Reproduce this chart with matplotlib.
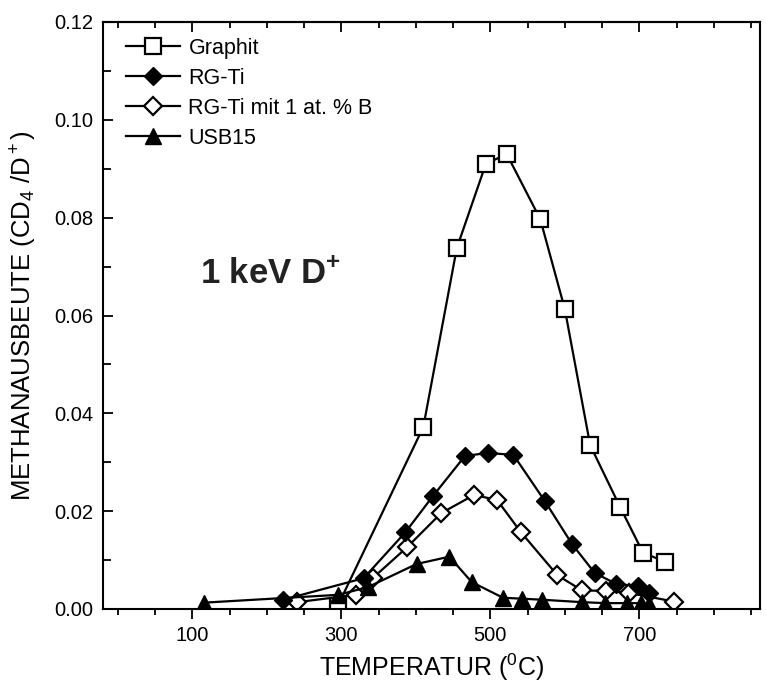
import matplotlib
matplotlib.use("Agg")
import matplotlib.pyplot as plt
from matplotlib.ticker import MultipleLocator, FormatStrFormatter

plt.rcParams['font.family'] = ['Liberation Sans', 'DejaVu Sans']
plt.rcParams['mathtext.fontset'] = 'custom'
plt.rcParams['mathtext.rm'] = 'Liberation Sans'
plt.rcParams['mathtext.it'] = 'Liberation Sans:italic'
plt.rcParams['mathtext.bf'] = 'Liberation Sans:bold'

# Daten
graphit_x = [295, 410, 455, 494, 522, 567, 600, 634, 674, 705, 734]
graphit_y = [0.0006, 0.0372, 0.0738, 0.0910, 0.0930, 0.0797, 0.0613,
             0.0335, 0.0209, 0.0115, 0.0097]

rgti_x = [222, 330, 386, 423, 466, 497, 531, 573, 610, 640, 669, 698, 713]
rgti_y = [0.0019, 0.0063, 0.0157, 0.0231, 0.0313, 0.0319, 0.0315,
          0.0221, 0.0132, 0.0074, 0.0051, 0.0047, 0.0033]

rgtib_x = [241, 319, 342, 388, 434, 478, 509, 541, 590, 623, 655, 686, 747]
rgtib_y = [0.0014, 0.0029, 0.0063, 0.0126, 0.0196, 0.0233, 0.0223,
           0.0157, 0.0069, 0.0038, 0.0037, 0.0033, 0.0015]

usb_x = [116, 296, 336, 401, 445, 475, 517, 543, 569, 623, 654, 683, 702, 713]
usb_y = [0.0013, 0.0029, 0.0045, 0.0092, 0.0107, 0.0055, 0.0023,
         0.0021, 0.0019, 0.0014, 0.0012, 0.0012, 0.0012, 0.0011]

labels = ["Graphit", "RG-Ti", "RG-Ti mit 1 at. % B", "USB15"]

fig = plt.figure(figsize=(7.66, 6.89), dpi=100)
ax = fig.add_axes([103/766, 80/689, 657/766, 587/689])

lw = 1.6
h_gr, = ax.plot(graphit_x, graphit_y, '-s', color='black', lw=lw, ms=11,
                mfc='white', mec='black', mew=1.6)
h_rb, = ax.plot(rgtib_x, rgtib_y, '-D', color='black', lw=lw, ms=9.5,
                mfc='white', mec='black', mew=1.6)
h_rg, = ax.plot(rgti_x, rgti_y, '-D', color='black', lw=lw, ms=9.5,
                mfc='black', mec='black')
h_us, = ax.plot(usb_x, usb_y, '-^', color='black', lw=lw, ms=12,
                mfc='black', mec='black')

ax.set_xlim(-20, 862)
ax.set_ylim(0, 0.12)

ax.set_xticks([100, 300, 500, 700])
ax.xaxis.set_minor_locator(MultipleLocator(50))
ax.yaxis.set_major_locator(MultipleLocator(0.02))
ax.yaxis.set_minor_locator(MultipleLocator(0.01))
ax.yaxis.set_major_formatter(FormatStrFormatter('%.2f'))

ax.tick_params(axis='x', which='major', direction='out', length=7, width=1.3,
               labelsize=14.5, pad=5)
ax.tick_params(axis='x', which='minor', direction='out', length=4.5, width=1.3)
ax.tick_params(axis='y', which='major', direction='in', length=7, width=1.3,
               labelsize=14.5, pad=7)
ax.tick_params(axis='y', which='minor', direction='in', length=6, width=1.3)

# obere Achse mit Ticks nach innen
top = ax.secondary_xaxis('top')
top.set_xticks([100, 300, 500, 700])
top.xaxis.set_minor_locator(MultipleLocator(50))
top.tick_params(axis='x', which='major', direction='in', length=7, width=1.3,
                labeltop=False)
top.tick_params(axis='x', which='minor', direction='in', length=4.5, width=1.3)
top.spines['top'].set_linewidth(1.5)

for s in ax.spines.values():
    s.set_linewidth(1.5)

ax.set_xlabel(r'TEMPERATUR ($^0$C)', fontsize=18, labelpad=5)
ax.set_ylabel(r'METHANAUSBEUTE (CD$_4$ /D$^+$)', fontsize=18.5, labelpad=11)

ax.text(110, 0.0666, r'1 keV D$^\mathbf{+}$', fontsize=25, fontweight='bold',
        color='#222222')

ax.legend([h_gr, h_rg, h_rb, h_us], labels, loc='upper left',
          bbox_to_anchor=(0.035, 0.973), frameon=False, fontsize=15.5,
          handlelength=2.5, handletextpad=0.4, labelspacing=0.42,
          borderpad=0, borderaxespad=0)

fig.savefig('out.png', dpi=100)
